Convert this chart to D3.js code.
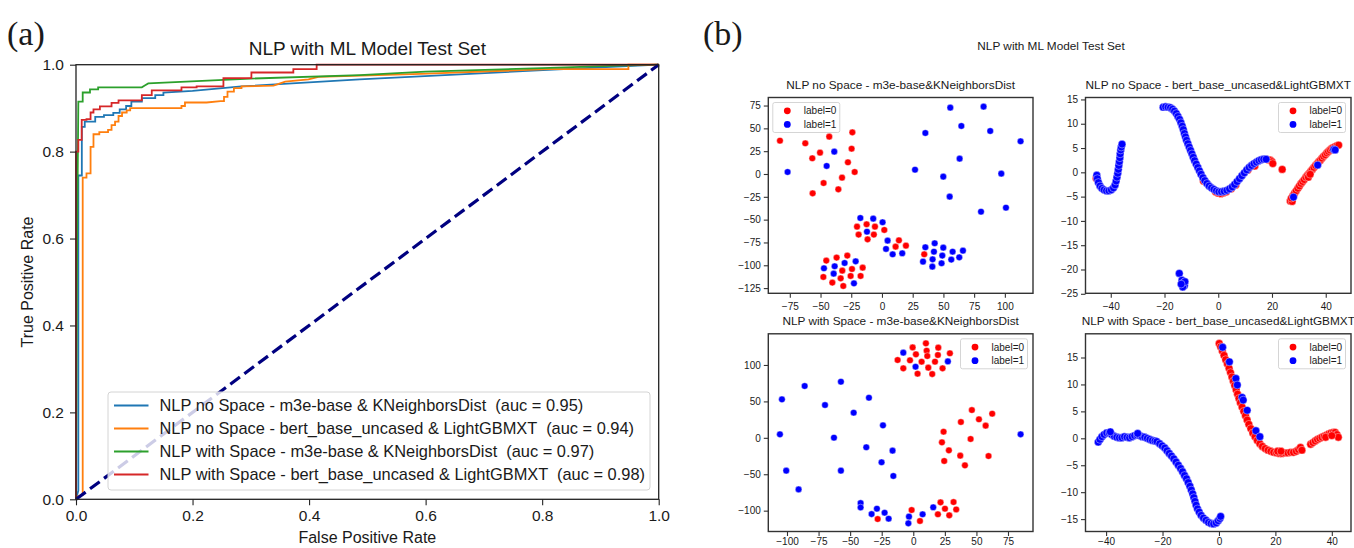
<!DOCTYPE html>
<html>
<head>
<meta charset="utf-8">
<script src="https://cdn.jsdelivr.net/npm/d3@7"></script>
<style>
  body { margin: 0; background: #fff; }
  svg { display: block; }
  text { font-family: "Liberation Sans", Arial, Helvetica, sans-serif; fill: #1a1a1a; }
</style>
</head>
<body>
<svg id="chart" width="1354" height="548"></svg>
<script>
// ---------------- (a) ROC curves: [fpr, tpr] vertices ----------------
const rocNoSpaceM3e = [
  [0,0],[0.004,0.02],[0.004,0.745],[0.01,0.745],[0.01,0.857],[0.015,0.857],[0.015,0.869],
  [0.033,0.869],[0.033,0.88],[0.048,0.88],[0.048,0.884],[0.064,0.884],[0.064,0.889],
  [0.075,0.889],[0.075,0.897],[0.086,0.897],[0.086,0.905],[0.095,0.905],[0.095,0.915],
  [0.113,0.915],[0.113,0.923],[0.136,0.923],[0.136,0.93],[0.15,0.93],[0.15,0.936],
  [0.2,0.94],[0.284,0.95],[0.487,0.966],[0.81,0.988],[1,1]
];
const rocNoSpaceBert = [
  [0,0],[0,0.005],[0.01,0.01],[0.0115,0.01],[0.0115,0.74],[0.018,0.74],[0.018,0.75],
  [0.025,0.75],[0.025,0.811],[0.03,0.811],[0.03,0.84],[0.04,0.84],[0.04,0.845],
  [0.055,0.845],[0.055,0.85],[0.061,0.85],[0.061,0.861],[0.067,0.861],[0.067,0.869],
  [0.073,0.869],[0.073,0.882],[0.079,0.882],[0.079,0.89],[0.087,0.89],[0.087,0.895],
  [0.093,0.895],[0.093,0.9],[0.181,0.9],[0.181,0.905],[0.187,0.905],[0.187,0.913],
  [0.224,0.913],[0.248,0.916],[0.254,0.916],[0.254,0.926],[0.26,0.926],[0.26,0.938],
  [0.271,0.938],[0.271,0.946],[0.284,0.946],[0.284,0.95],[0.339,0.952],[0.359,0.961],
  [0.399,0.966],[0.416,0.972],[0.592,0.979],[0.81,0.99],[0.948,0.99],[0.948,1],[1,1]
];
const rocSpaceM3e = [
  [0,0],[0.002,0.6],[0.004,0.915],[0.0115,0.915],[0.0115,0.936],[0.024,0.936],
  [0.024,0.943],[0.038,0.943],[0.038,0.948],[0.113,0.948],[0.118,0.952],[0.124,0.957],
  [0.3,0.968],[0.487,0.976],[0.6,0.984],[0.8,0.992],[0.93,0.998],[1,1]
];
const rocSpaceBert = [
  [0,0],[0,0.8],[0.004,0.8],[0.004,0.827],[0.0098,0.827],[0.0098,0.873],[0.018,0.873],
  [0.018,0.875],[0.025,0.875],[0.025,0.89],[0.03,0.89],[0.03,0.897],[0.041,0.897],
  [0.041,0.904],[0.061,0.904],[0.061,0.912],[0.073,0.912],[0.073,0.918],[0.113,0.918],
  [0.113,0.93],[0.13,0.93],[0.13,0.941],[0.181,0.941],[0.181,0.948],[0.207,0.948],
  [0.207,0.95],[0.253,0.95],[0.253,0.969],[0.301,0.969],[0.301,0.982],[0.373,0.982],
  [0.373,0.99],[0.413,0.99],[0.413,1],[1,1]
];
const rocSeries = [rocNoSpaceM3e, rocNoSpaceBert, rocSpaceM3e, rocSpaceBert];
const rocLabels = [
  "NLP no Space - m3e-base & KNeighborsDist  (auc = 0.95)",
  "NLP no Space - bert_base_uncased & LightGBMXT  (auc = 0.94)",
  "NLP with Space - m3e-base & KNeighborsDist  (auc = 0.97)",
  "NLP with Space - bert_base_uncased & LightGBMXT  (auc = 0.98)"
];
const rocColors = ["#1f77b4", "#ff7f0e", "#2ca02c", "#d62728"];
const rocTicks = [0, 0.2, 0.4, 0.6, 0.8, 1.0];

// ---------------- (b) 2-D embeddings: [x, y] per sample ----------------
const m3eNoSpace0 = [
  [-83,36.5],[-62.4,33.6],[-42.9,40.9],[-50.4,23.4],[-56.7,17.2],[-24.1,45.6],[-24.7,27.7],
  [-27.7,12.8],[-22.2,2.2],[-32.5,-4],[-47.5,-9.9],[-56.4,-21.2],[-35.5,-16.8],
  [-20.3,-57.7],[-12.5,-55.1],[-5.7,-57.7],[1.9,-61.3],[-19,-66.4],[-11.7,-71.6],[-6.6,-66.4],
  [11.1,-79.6],[13.8,-72.7],[19.5,-78.5],[34.4,-88],
  [-45.3,-94.9],[-36.9,-91.6],[-28.2,-89.4],[-32.3,-105.9],[-24.4,-104.1],[-15.7,-102.6],
  [-47.7,-112.8],[-40.4,-119],[-33.6,-114.3],[-25.5,-111.7],[-17.4,-111.7],[-31.5,-122.7]
];
const m3eNoSpace1 = [
  [-76.8,2.2],[-38.8,24.5],[-45,8.8],
  [55.6,72.7],[82.7,73.8],[35.3,44.9],[64.6,52.6],[88.1,47.1],[112.8,35.8],[26.9,4.7],
  [49.9,-2.9],[63.2,16.8],[97.1,0.4],[55.1,-24.8],[80.6,-41.3],[100.9,-36.9],
  [-17.6,-48.2],[-7.1,-48.9],[0.5,-52.9],[-12.2,-63.2],[4.6,-73],[3.3,-82.1],[8.7,-88],[16.5,-86.9],
  [35.3,-80.3],[42.9,-75.9],[49.9,-80.7],[57.5,-85.1],[65.9,-84],[42.3,-85.1],[49.1,-89.4],
  [56.4,-93.8],[62.9,-91.3],[33.4,-96],[41.2,-93.5],[41,-101.5],[48.5,-97.8],
  [-47.2,-103.3],[-38.5,-101.1],[-30.4,-97.5],[-21.4,-95.7],[-39.3,-109.2],[-22.8,-119.8]
];
const bertNoSpace0 = [
  [-45.4,-1.2],
  [0.0,-4.3],[1.0,-4.4],[2.0,-4.2],[3.0,-4.0],[-1.0,-4.0],[4.8,-3.4],[6.5,-2.6],[11.0,0.5],
  [18.6,2.6],[19.4,2.5],[20.0,2.2],[20.3,1.8],[-5.5,-1.8],[13.6,1.3],
  [23.8,0.6],
  [26.8,-5.9],[27.5,-6.0],[27.2,-5.3],[27.8,-4.8],[28.4,-4.3],[29.0,-3.8],[29.6,-3.3],[30.2,-2.8],
  [30.8,-2.3],[31.4,-1.9],[32.0,-1.5],[32.6,-1.0],[33.2,-0.6],[33.8,-0.2],[34.4,0.2],[35.0,0.6],
  [35.6,1.0],[36.2,1.4],[36.8,1.8],[37.4,2.2],[38.0,2.5],[38.6,2.9],[39.2,3.3],[39.8,3.6],
  [40.4,4.0],[41.0,4.3],[41.6,4.6],[42.2,4.9],[42.8,5.1],[43.5,5.3],[44.2,5.5],[44.8,5.6],
  [33.5,-1.0],[34.2,-0.4]
];
const bertNoSpace1 = [
  [-45.2,-0.6],[-45,-1.3],[-44.6,-2.1],[-44,-2.8],[-43.3,-3.3],[-42.5,-3.6],[-41.6,-3.8],
  [-40.7,-3.8],[-39.8,-3.6],[-39,-3.2],[-38.4,-2.6],[-38,-1.8],[-37.7,-1.0],[-37.4,-0.2],
  [-37.2,0.6],[-37,1.4],[-36.8,2.2],[-36.6,3.0],[-36.5,3.8],[-36.3,4.6],[-36.1,5.2],[-35.8,5.8],
  [-20.5,13.4],[-19.6,13.5],[-18.7,13.4],[-17.8,13.3],[-17,13.0],[-16.3,12.6],[-15.6,12.1],
  [-15,11.5],[-14.4,10.9],[-13.9,10.2],[-13.4,9.5],[-13,8.8],[-12.6,8.0],[-12.2,7.3],
  [-11.8,6.6],[-11.3,5.9],[-10.8,5.2],[-10.3,4.5],[-9.8,3.8],[-9.3,3.1],[-8.8,2.4],[-8.2,1.7],
  [-7.6,1.0],[-7.0,0.3],[-6.4,-0.4],[-5.7,-1.1],[-5.0,-1.7],[-4.2,-2.3],[-3.4,-2.8],
  [-2.5,-3.2],[-1.6,-3.5],[-0.7,-3.8],[0.2,-4.0],[1.2,-4.0],[2.2,-3.9],[3.2,-3.7],[4.2,-3.4],
  [5.2,-3.0],[6.1,-2.5],[7.0,-1.9],[7.9,-1.3],[8.8,-0.7],[9.7,-0.1],[10.6,0.5],[11.5,1.0],
  [12.4,1.4],[13.3,1.8],[14.2,2.1],[15.1,2.4],[16.0,2.6],[16.9,2.7],[17.8,2.7],
  [28.0,-5.1],[37.0,1.5],[43.0,4.7],[43.5,4.6],
  [-14.5,-20.8],[-13.5,-22.2],[-13.0,-22.8],[-12.6,-23.3],[-13.2,-23.6],[-12.4,-22.5],[-13.8,-23.0]
];
const m3eSpace0 = [
  [-0.5,124.1],[10,129.7],[19.8,123.8],[29,116],[-12.4,106.8],[-2.6,106.4],[2.1,114.6],
  [6.6,104.5],[10.6,119.6],[11.1,112.3],[17.2,104.5],[19.5,113.7],[-7.9,95.4],[3.4,88],
  [11.9,96.3],[15,87.5],[23.2,95.4],
  [46.4,38.1],[62.5,33.1],[52,25.4],[37.7,21.7],[57.3,16.7],[24,8.4],[45.4,-1.6],[22.7,-6.2],
  [28.2,-17.2],[37.2,-24.5],[59.6,-25],[24.5,-31.8],[40.9,-37.8],
  [-28.2,-111.5],[-1.3,-99.1],[5.3,-114.2],[21.6,-88.6],[31.9,-88.2],[25.1,-97.3],[34,-98.3],
  [19.5,-105],[28.5,-106.4]
];
const m3eSpace1 = [
  [-7.9,116.9],[1.8,97.6],[27.4,104.9],
  [-86,71.1],[-57.3,77],[-104,52.8],[-35.1,55],[-69.9,45],[-47.2,34.5],[-24,17.1],[-105.6,4.8],
  [-62.8,0.2],[-37.2,-13],[-16.4,-17.6],[-25.1,-33.6],[-100.6,-45.1],[-57.3,-45.1],[-15.8,-52.4],
  [-90.8,-70.8],[85,4.8],
  [-41.7,-89.6],[-41.7,-95.6],[-33,-104.7],[-28.8,-97.3],[-22.7,-102.8],[-19.5,-111],
  [-3.4,-108.2],[-3.9,-117.4],[7.4,-105],[15.8,-95.4]
];
const bertSpace0 = [
  [0.1,17.6],[0.6,17.0],[1.2,16.2],[1.8,15.4],[2.4,14.6],[3.0,13.8],[3.6,13.0],[4.1,12.2],
  [4.6,11.4],[5.1,10.6],[5.6,9.8],[6.1,9.0],[6.6,8.2],[7.1,7.4],[7.6,6.6],[8.2,5.8],[8.8,5.0],
  [9.4,4.2],[10.0,3.4],[10.6,2.6],[11.3,1.8],[12.0,1.0],[12.8,0.3],[13.6,-0.4],[14.5,-1.0],
  [15.4,-1.5],[16.4,-1.9],[17.4,-2.2],[18.4,-2.4],[19.4,-2.6],[20.4,-2.7],[21.4,-2.8],
  [22.4,-2.8],[23.4,-2.7],[24.4,-2.7],[25.4,-2.6],[26.4,-2.6],[27.4,-2.4],[28.2,-2.1],
  [28.9,-1.7],[29.4,-2.2],[20.8,-2.4],[22.0,-2.4],
  [32.5,-1.1],[33.3,-0.8],[34.1,-0.5],[34.9,-0.2],[35.7,0.0],[36.5,0.2],[37.3,0.4],[38.1,0.6],
  [38.9,0.8],[39.7,1.0],[40.5,1.1],[41.2,1.1],[41.8,0.7],[42.3,0.2],[37.8,0.2],[40.0,0.5]
];
const bertSpace1 = [
  [-42.8,-0.7],[-42.2,-0.2],[-41.5,0.3],[-40.7,0.7],[-39.8,1.0],[-38.9,1.0],[-38.0,0.7],
  [-37.1,0.4],[-36.2,0.2],[-35.3,0.1],[-34.4,0.1],[-33.5,0.3],[-32.6,0.2],[-31.7,0.1],
  [-30.8,0.3],[-29.9,0.5],[-29.0,0.6],[-28.1,0.5],[-27.2,0.3],[-26.3,0.2],[-25.4,0.0],
  [-24.5,-0.2],[-23.6,-0.4],[-22.7,-0.5],[-22.0,-0.6],[-21.0,-1.0],[-20.1,-1.4],[-19.2,-1.8],
  [-18.4,-2.3],[-17.6,-2.8],[-16.8,-3.3],[-16.0,-3.8],[-15.2,-4.4],[-14.4,-5.0],[-13.6,-5.6],
  [-12.9,-6.2],[-12.2,-6.9],[-11.5,-7.5],[-10.9,-8.2],[-10.3,-8.9],[-9.8,-9.6],[-9.3,-10.3],
  [-8.9,-11.0],[-8.5,-11.7],[-8.1,-12.4],[-7.6,-13.1],[-7.0,-13.7],[-6.3,-14.3],[-5.5,-14.8],
  [-4.6,-15.2],[-3.7,-15.6],[-2.8,-15.8],[-1.9,-15.9],[-1.0,-15.7],[-0.3,-15.3],[0.3,-14.9],
  [0.6,-14.5],[-28.8,0.9],[-38.5,1.2],
  [1.3,16.9],[3.7,14.2],[6.0,11.1],[6.5,9.9],[8.2,7.6],[8.6,7.1],[10.0,5.2],[13.1,1.4],[14.5,0.3]
];
const embedTitles = [
  "NLP no Space - m3e-base&KNeighborsDist",
  "NLP no Space - bert_base_uncased&LightGBMXT",
  "NLP with Space - m3e-base&KNeighborsDist",
  "NLP with Space - bert_base_uncased&LightGBMXT"
];
const ticksM3eNoSpaceX = [-75, -50, -25, 0, 25, 50, 75, 100];
const ticksM3eNoSpaceY = [75, 50, 25, 0, -25, -50, -75, -100, -125];
const ticksBertNoSpaceX = [-40, -20, 0, 20, 40];
const ticksBertNoSpaceY = [15, 10, 5, 0, -5, -10, -15, -20, -25];
const ticksM3eSpaceX = [-100, -75, -50, -25, 0, 25, 50, 75];
const ticksM3eSpaceY = [100, 50, 0, -50, -100];
const ticksBertSpaceX = [-40, -20, 0, 20, 40];
const ticksBertSpaceY = [15, 10, 5, 0, -5, -10, -15];
const classLabels = ["label=0", "label=1"];
const classColors = ["#ff0000", "#0000ff"];

// ---------------- drawing ----------------
const svg = d3.select("#chart");
svg.append("rect").attr("width", 1354).attr("height", 548).attr("fill", "#fff");

function styleAxis(g, fontSize, color) {
  g.select(".domain").remove();
  g.selectAll(".tick line").attr("stroke", color).attr("stroke-width", 1.1);
  g.selectAll(".tick text").attr("fill", "#1a1a1a").style("font-size", fontSize + "px")
    .style("font-family", '"Liberation Sans", Arial, sans-serif');
}

// ===== (a) ROC panel =====
(function drawRoc() {
  const L = 76, R = 658.7, T = 64.7, B = 499.3;
  const x = d3.scaleLinear().domain([0, 1]).range([L, R]);
  const y = d3.scaleLinear().domain([0, 1]).range([B, T]);
  const g = svg.append("g");

  const line = d3.line().x(d => x(d[0])).y(d => y(d[1]));
  rocSeries.forEach((s, i) => {
    g.append("path").datum(s).attr("d", line).attr("fill", "none")
      .attr("stroke", rocColors[i]).attr("stroke-width", 1.8).attr("stroke-linejoin", "miter");
  });
  // chance diagonal
  g.append("path").datum([[0, 0], [1, 1]]).attr("d", line).attr("fill", "none")
    .attr("stroke", "#000080").attr("stroke-width", 3.2).attr("stroke-dasharray", "12,5.5");

  const gx = g.append("g").attr("transform", `translate(0,${B})`)
    .call(d3.axisBottom(x).tickValues(rocTicks).tickFormat(d3.format(".1f")).tickSize(6).tickPadding(5));
  styleAxis(gx, 15.5, "#222");
  const gy = g.append("g").attr("transform", `translate(${L},0)`)
    .call(d3.axisLeft(y).tickValues(rocTicks).tickFormat(d3.format(".1f")).tickSize(6).tickPadding(6));
  styleAxis(gy, 15.5, "#222");

  g.append("rect").attr("x", L).attr("y", T).attr("width", R - L).attr("height", B - T)
    .attr("fill", "none").attr("stroke", "#222").attr("stroke-width", 1.3);

  g.append("text").attr("x", (L + R) / 2).attr("y", 55).attr("text-anchor", "middle")
    .style("font-size", "19px").text("NLP with ML Model Test Set");
  g.append("text").attr("x", (L + R) / 2).attr("y", 543).attr("text-anchor", "middle")
    .style("font-size", "16px").text("False Positive Rate");
  g.append("text").attr("transform", `translate(33,${(T + B) / 2}) rotate(-90)`)
    .attr("text-anchor", "middle").style("font-size", "16px").text("True Positive Rate");

  // legend
  const lg = g.append("g");
  lg.append("rect").attr("x", 108).attr("y", 392).attr("width", 542).attr("height", 98)
    .attr("rx", 3).attr("fill", "#fff").attr("fill-opacity", 0.8)
    .attr("stroke", "#d4d4d4").attr("stroke-width", 1);
  rocLabels.forEach((lab, i) => {
    const cy = 405.5 + i * 23;
    lg.append("line").attr("x1", 114).attr("x2", 148.5).attr("y1", cy).attr("y2", cy)
      .attr("stroke", rocColors[i]).attr("stroke-width", 1.8);
    lg.append("text").attr("x", 159.5).attr("y", cy + 5.7).style("font-size", "16.4px")
      .style("white-space", "pre").text(lab);
  });

  svg.append("text").attr("x", 7).attr("y", 45)
    .style("font-family", '"Liberation Serif", "Times New Roman", serif').style("font-size", "34px")
    .text("(a)");
})();

// ===== (b) embedding panels =====
svg.append("text").attr("x", 703).attr("y", 45)
  .style("font-family", '"Liberation Serif", "Times New Roman", serif').style("font-size", "34px")
  .text("(b)");
svg.append("text").attr("x", 1051).attr("y", 50).attr("text-anchor", "middle")
  .style("font-size", "11.8px").text("NLP with ML Model Test Set");

const panels = [
  { x0: 768.3, x1: 1033, y0: 97.5, y1: 293.3, xd: [-92.5, 122.9], yd: [-130.7, 83.8],
    xt: ticksM3eNoSpaceX, yt: ticksM3eNoSpaceY, pts: [m3eNoSpace0, m3eNoSpace1], r: 3.3,
    title: embedTitles[0], legendLeft: true, xPad: 5.5 },
  { x0: 1085.5, x1: 1351, y0: 97.5, y1: 293.3, xd: [-49.4, 49.4], yd: [-24.9, 15.4],
    xt: ticksBertNoSpaceX, yt: ticksBertNoSpaceY, pts: [bertNoSpace0, bertNoSpace1], r: 3.9,
    title: embedTitles[1], legendLeft: false, xPad: 5.5 },
  { x0: 768.3, x1: 1033, y0: 333.8, y1: 531.5, xd: [-114.8, 94.8], yd: [-128.6, 142.8],
    xt: ticksM3eSpaceX, yt: ticksM3eSpaceY, pts: [m3eSpace0, m3eSpace1], r: 3.3,
    title: embedTitles[2], legendLeft: false, xPad: 2 },
  { x0: 1085.5, x1: 1351, y0: 333.8, y1: 531.5, xd: [-47.3, 46.8], yd: [-17.3, 19.4],
    xt: ticksBertSpaceX, yt: ticksBertSpaceY, pts: [bertSpace0, bertSpace1], r: 3.9,
    title: embedTitles[3], legendLeft: false, xPad: 2 }
];

panels.forEach(p => {
  const x = d3.scaleLinear().domain(p.xd).range([p.x0, p.x1]);
  const y = d3.scaleLinear().domain(p.yd).range([p.y1, p.y0]);
  const g = svg.append("g");

  p.pts.forEach((pts, k) => {
    g.append("g").selectAll("circle").data(pts).join("circle")
      .attr("cx", d => x(d[0])).attr("cy", d => y(d[1])).attr("r", p.r)
      .attr("fill", classColors[k]).attr("stroke", "#fff").attr("stroke-width", 0.4);
  });

  const fmt = d3.format("d");
  const gx = g.append("g").attr("transform", `translate(0,${p.y1})`)
    .call(d3.axisBottom(x).tickValues(p.xt).tickFormat(fmt).tickSize(4.5).tickPadding(p.xPad));
  styleAxis(gx, 10, "#333");
  const gy = g.append("g").attr("transform", `translate(${p.x0},0)`)
    .call(d3.axisLeft(y).tickValues(p.yt).tickFormat(fmt).tickSize(4.5).tickPadding(3));
  styleAxis(gy, 10, "#333");

  g.append("rect").attr("x", p.x0).attr("y", p.y0).attr("width", p.x1 - p.x0).attr("height", p.y1 - p.y0)
    .attr("fill", "none").attr("stroke", "#333").attr("stroke-width", 1.4);

  g.append("text").attr("x", (p.x0 + p.x1) / 2).attr("y", p.y0 - 8.5).attr("text-anchor", "middle")
    .style("font-size", "11.8px").text(p.title);

  // legend
  const lw = 67, lh = 30;
  const lx = p.legendLeft ? p.x0 + 4.5 : p.x1 - 5.5 - lw;
  const ly = p.y0 + 5;
  const lg = g.append("g");
  lg.append("rect").attr("x", lx).attr("y", ly).attr("width", lw).attr("height", lh).attr("rx", 2)
    .attr("fill", "#fff").attr("fill-opacity", 0.8).attr("stroke", "#d0d0d0").attr("stroke-width", 0.9);
  classLabels.forEach((lab, k) => {
    const cy = ly + 8.3 + k * 13.6;
    lg.append("circle").attr("cx", lx + 14.5).attr("cy", cy).attr("r", 3.4).attr("fill", classColors[k]);
    lg.append("text").attr("x", lx + 31).attr("y", cy + 3.5).style("font-size", "10px").text(lab);
  });
});
</script>
</body>
</html>
